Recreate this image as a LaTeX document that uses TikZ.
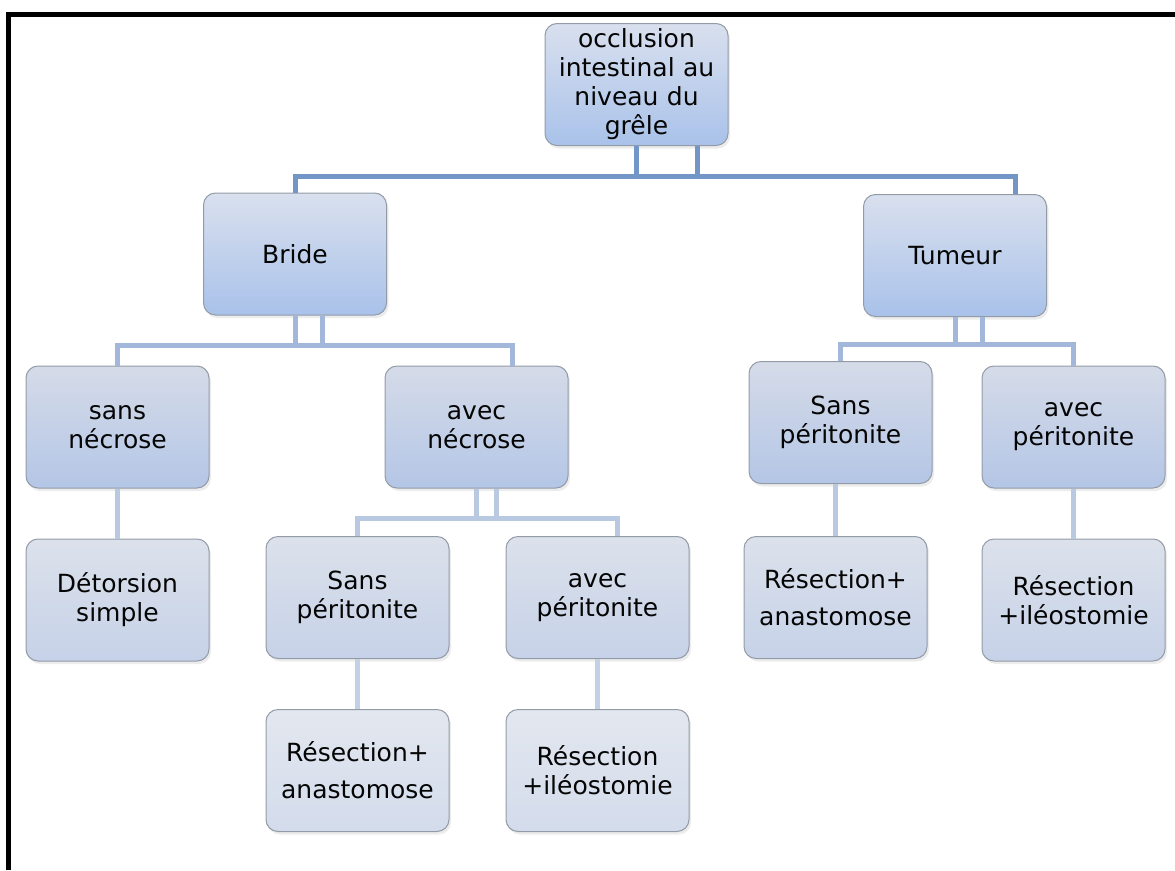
\documentclass[tikz,border=0pt]{standalone}
\usepackage{fontspec}
\setmainfont{DejaVu Sans}
\usepackage{xcolor}
\usetikzlibrary{positioning,shadows}

\definecolor{boxline}{HTML}{939BA7}
\definecolor{txt}{HTML}{050505}
\definecolor{topA}{HTML}{D9E0EE}
\definecolor{botA}{HTML}{A9C2EA}
\definecolor{topB}{HTML}{D5DBE8}
\definecolor{botB}{HTML}{B4C6E6}
\definecolor{topC}{HTML}{DCE1EB}
\definecolor{botC}{HTML}{C6D2E8}
\definecolor{topD}{HTML}{E3E7EF}
\definecolor{botD}{HTML}{D3DCEC}
\definecolor{linkA}{HTML}{7396C8}
\definecolor{linkB}{HTML}{A2B7DA}
\definecolor{linkC}{HTML}{B9C9E2}
\definecolor{linkD}{HTML}{C4D0E6}

\begin{document}
\begin{tikzpicture}[
    x=1pt, y=-1pt,
    node distance=50pt,
    box/.style={draw=boxline, rounded corners=12pt, minimum width=183pt, minimum height=122pt, text width=178pt, inner sep=0pt, align=center, line width=1pt, text=txt, font=\fontsize{25}{29}\selectfont, drop shadow={shadow xshift=2pt, shadow yshift=-3pt, opacity=0.15}},
    lvlA/.style={box, top color=topA, bottom color=botA},
    lvlB/.style={box, top color=topB, bottom color=botB},
    lvlC/.style={box, top color=topC, bottom color=botC},
    lvlD/.style={box, top color=topD, bottom color=botD},
    lnk/.style={line width=5pt},
    lnkA/.style={lnk, draw=linkA},
    lnkB/.style={lnk, draw=linkB},
    lnkC/.style={lnk, draw=linkC},
    lnkD/.style={lnk, draw=linkD},
  ]
    \useasboundingbox (0,0) rectangle (1175,870);

    % Frame
    \draw [line width=5pt, black] (8.5,870) -- (8.5,14.5) -- (1175,14.5);

    % Level 0 and 1
    \node [lvlA] (root) at (636.5,84.5) {occlusion\\intestinal au\\niveau du\\grêle};
    \node [lvlA] (bride) at (295,254) {Bride};
    \node [lvlA] (tumeur) at (955,255.5) {Tumeur};

    % Level 2
    \node [lvlB] (sansnec) at (117.5,427) {sans\\nécrose};
    \node [lvlB] (avecnec) at (476.5,427) {avec\\nécrose};
    \node [lvlB] (sansperiT) at (840.5,422.5) {Sans\\péritonite};
    \node [lvlB] (avecperiT) at (1073.5,427) {avec\\péritonite};

    % Level 3
    \node [lvlC] (sansperiB) at (357.5,597.5) {Sans\\péritonite};
    \node [lvlC] (avecperiB) at (597.5,597.5) {avec\\péritonite};
    \node [lvlC, below=of sansnec] (detorsion) {Détorsion\\simple};
    \node [lvlC, below=52pt of sansperiT, xshift=-5pt] (resanaT) {Résection+\\[8pt]anastomose};
    \node [lvlC, below=of avecperiT] (resileT) {Résection\\+iléostomie};

    % Level 4
    \node [lvlD, below=of sansperiB] (resanaB) {Résection+\\[8pt]anastomose};
    \node [lvlD, below=of avecperiB] (resileB) {Résection\\+iléostomie};

    % Root links
    \draw [lnkA] ([xshift=61pt]root.south) -- ++(0,30) -| (bride.north);
    \draw [lnkA] (root.south) -- ++(0,30) -| ([xshift=60pt]tumeur.north);

    % Bride links
    \draw [lnkB] ([xshift=27pt]bride.south) -- ++(0,30) -| (sansnec.north);
    \draw [lnkB] (bride.south) -- ++(0,30) -| ([xshift=35.5pt]avecnec.north);

    % Tumeur links
    \draw [lnkB] ([xshift=27pt]tumeur.south) -- ++(0,27) -| (sansperiT.north);
    \draw [lnkB] (tumeur.south) -- ++(0,27) -| (avecperiT.north);

    % avec necrose links
    \draw [lnkC] ([xshift=20pt]avecnec.south) -- ++(0,30) -| (sansperiB.north);
    \draw [lnkC] (avecnec.south) -- ++(0,30) -| ([xshift=19.5pt]avecperiB.north);

    % Single links
    \draw [lnkC] (sansnec) -- (detorsion);
    \draw [lnkC] (sansperiT.south -| resanaT.north) -- (resanaT.north);
    \draw [lnkC] (avecperiT) -- (resileT);
    \draw [lnkD] (sansperiB) -- (resanaB);
    \draw [lnkD] (avecperiB) -- (resileB);
\end{tikzpicture}
\end{document}
